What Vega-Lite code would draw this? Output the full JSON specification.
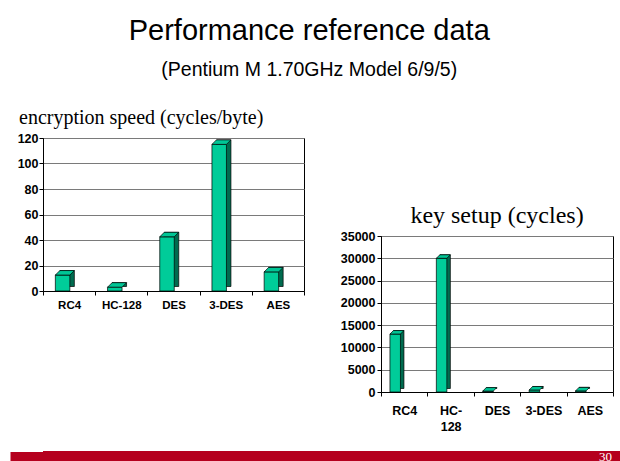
{
  "$schema": "https://vega.github.io/schema/vega-lite/v6.json",
  "background": "white",
  "padding": {"left": 4, "top": 17, "right": 0, "bottom": 0},
  "title": {
    "text": "Performance reference data",
    "subtitle": "(Pentium M 1.70GHz Model 6/9/5)",
    "font": "Liberation Sans",
    "fontSize": 29,
    "fontWeight": "normal",
    "color": "black",
    "subtitleFont": "Liberation Sans",
    "subtitleFontSize": 19.5,
    "subtitleColor": "black",
    "subtitlePadding": 15,
    "anchor": "middle",
    "dx": -3,
    "offset": 28
  },
  "datasets": {
    "enc": [
      {"algo": "RC4", "value": 12.5},
      {"algo": "HC-128", "value": 3},
      {"algo": "DES", "value": 42.5},
      {"algo": "3-DES", "value": 115},
      {"algo": "AES", "value": 15}
    ],
    "key": [
      {"algo": "RC4", "value": 13000},
      {"algo": "HC-128", "value": 30000},
      {"algo": "DES", "value": 200},
      {"algo": "3-DES", "value": 450},
      {"algo": "AES", "value": 250}
    ]
  },
  "spacing": 17,
  "vconcat": [
    {
      "spacing": 30,
      "hconcat": [
        {
          "data": {"name": "enc"},
          "width": 261,
          "height": 153,
          "title": {
            "text": "encryption speed (cycles/byte)",
            "anchor": "start",
            "frame": "bounds",
            "font": "Liberation Serif",
            "fontSize": 20,
            "fontWeight": "normal",
            "color": "black",
            "dx": 9,
            "offset": 4
          },
          "encoding": {
            "x": {
              "field": "algo",
              "type": "nominal",
              "sort": null,
              "scale": {"paddingInner": 0, "paddingOuter": 0},
              "axis": {"labelAngle": 0, "labelFontSize": 11.5, "tickBand": "extent", "tickSize": 4, "labelPadding": 4}
            },
            "y": {
              "field": "value",
              "type": "quantitative",
              "scale": {"domain": [0, 120], "nice": false},
              "axis": {"values": [0, 20, 40, 60, 80, 100, 120], "grid": true, "labelFontSize": 12.5, "tickSize": 4, "labelPadding": 1, "minExtent": 33}
            }
          },
          "layer": [
            {"mark": {"type": "bar", "width": 14.5, "xOffset": -2, "yOffset": -4.5, "fill": "#006B4F", "stroke": "black", "strokeWidth": 0.7}},
            {"mark": {"type": "bar", "width": 14.5, "xOffset": -6.5, "fill": "#00CC99", "stroke": "black", "strokeWidth": 0.7}},
            {"mark": {"type": "point", "shape": "M -0.725 0 L 0.725 0 L 1.175 -0.45 L -0.275 -0.45 Z", "size": 400, "xOffset": -6.5, "filled": true, "fill": "#00C595", "stroke": "black", "strokeWidth": 0.7, "opacity": 1}}
          ]
        },
        {
          "spacing": 10,
          "vconcat": [
            {
              "data": {"values": [{}]},
              "width": 232,
              "height": 55,
              "view": {"stroke": null},
              "mark": {"type": "text", "text": ""}
            },
            {
              "data": {"name": "key"},
              "width": 232,
              "height": 156,
              "title": {
                "text": "key setup (cycles)",
                "anchor": "middle",
                "font": "Liberation Serif",
                "fontSize": 24,
                "fontWeight": "normal",
                "color": "black",
                "offset": 2
              },
              "encoding": {
                "x": {
                  "field": "algo",
                  "type": "nominal",
                  "sort": null,
                  "scale": {"paddingInner": 0, "paddingOuter": 0},
                  "axis": {"labelAngle": 0, "labelFontSize": 12.5, "tickBand": "extent", "tickSize": 4, "labelPadding": 8, "labelLineHeight": 16, "labelExpr": "datum.value == 'HC-128' ? ['HC-', '128'] : datum.value"}
                },
                "y": {
                  "field": "value",
                  "type": "quantitative",
                  "scale": {"domain": [0, 35000], "nice": false},
                  "axis": {"values": [0, 5000, 10000, 15000, 20000, 25000, 30000, 35000], "format": "d", "grid": true, "labelFontSize": 12.5, "tickSize": 4, "labelPadding": 2, "minExtent": 45}
                }
              },
              "layer": [
                {"mark": {"type": "bar", "width": 10.5, "xOffset": -5.5, "yOffset": -3.5, "fill": "#006B4F", "stroke": "black", "strokeWidth": 0.7}},
                {"mark": {"type": "bar", "width": 10.5, "xOffset": -9, "fill": "#00CC99", "stroke": "black", "strokeWidth": 0.7}},
                {"mark": {"type": "point", "shape": "M -0.525 0 L 0.525 0 L 0.875 -0.35 L -0.175 -0.35 Z", "size": 400, "xOffset": -9, "filled": true, "fill": "#00C595", "stroke": "black", "strokeWidth": 0.7, "opacity": 1}}
              ]
            }
          ]
        }
      ]
    },
    {
      "data": {"values": [{"page": "30"}]},
      "width": 577,
      "height": 11,
      "view": {"fill": "#B5001E", "stroke": null},
      "mark": {"type": "text", "align": "right", "baseline": "middle", "dx": -8, "dy": 0, "font": "Liberation Serif", "fontSize": 13, "color": "white"},
      "encoding": {
        "text": {"field": "page"},
        "x": {"field": "page", "type": "nominal", "axis": null, "scale": {"type": "point", "padding": 0, "align": 1}},
        "y": {
          "field": "page",
          "type": "nominal",
          "scale": {"type": "point", "padding": 0.5},
          "axis": {"labels": false, "domain": false, "grid": false, "ticks": true, "tickSize": 34, "offset": -1, "tickWidth": 11, "tickColor": "#B5001E", "tickCap": "butt", "minExtent": 33, "maxExtent": 33}
        }
      }
    }
  ],
  "config": {
    "view": {"stroke": "black", "strokeWidth": 1},
    "axis": {
      "title": null,
      "labelFont": "Liberation Sans",
      "labelFontWeight": "bold",
      "labelColor": "black",
      "domainColor": "black",
      "tickColor": "black",
      "gridColor": "#7a7a7a",
      "gridOpacity": 1
    }
  }
}
